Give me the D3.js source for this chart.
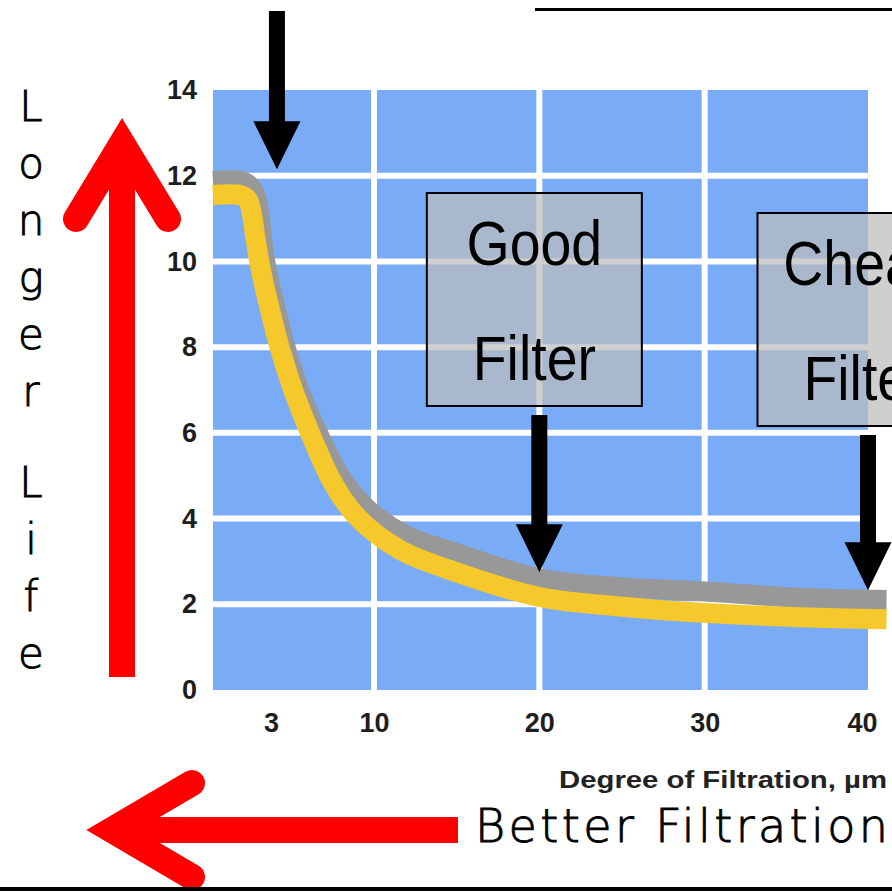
<!DOCTYPE html>
<html>
<head>
<meta charset="utf-8">
<script src="https://cdn.jsdelivr.net/npm/d3@7"></script>
<style>
  body { margin: 0; background: #fff; }
  svg { display: block; }
  .tick text { font-family: "Liberation Sans", Arial, sans-serif; font-weight: bold; font-size: 27px; fill: #1e1e1e; }
</style>
</head>
<body>
<div id="container"></div>
<script>
const width = 892, height = 892;

// axis ticks
const lifeTicks = [0, 2, 4, 6, 8, 10, 12, 14];
const micronTicks = [3, 10, 20, 30, 40];

// curves (degree of filtration, µm -> life)
const micronsGray = [0, 1.4, 1.86, 2.17, 2.38, 2.53, 2.69, 2.95, 3.34, 3.82, 4.36, 5.04, 6.13, 7.76, 9.46, 11.88, 14.78, 20, 24.9, 30, 35.8, 41];
const lifeGray    = [11.88, 11.88, 11.78, 11.57, 11.15, 10.55, 10.03, 9.45, 8.87, 8.21, 7.58, 6.88, 6.04, 4.95, 4.25, 3.62, 3.22, 2.6, 2.4, 2.3, 2.15, 2.1];
const micronsYellow = [0, 1.4, 1.76, 1.97, 2.17, 2.38, 2.64, 2.95, 3.41, 3.95, 4.63, 5.65, 7.21, 8.84, 11.57, 14.6, 20, 24.9, 30, 35.8, 41];
const lifeYellow    = [11.55, 11.55, 11.46, 11.2, 10.62, 10.03, 9.45, 8.87, 8.21, 7.58, 6.88, 6.0, 4.83, 4.04, 3.27, 2.8, 2.17, 1.95, 1.8, 1.7, 1.65];

// callouts: where the arrows point
const arrowMicrons = [3.2, 20, 40];
const arrowLife = [12.15, 2.75, 2.33];
const calloutLines = [null, ['Good', 'Filter'], ['Cheap', 'Filter']];

const yLetters = ['Longer', 'Life'];

const svg = d3.select('#container').append('svg')
    .attr('width', width)
    .attr('height', height)
    .attr('viewBox', [0, 0, width, height]);

const x = d3.scaleLinear().domain([0, 3, 10, 40]).range([213, 271, 374, 870]);
const y = d3.scaleLinear().domain([0, 14]).range([690, 90]);
const plotRight = 868;

// blue panel + white grid
svg.append('rect')
    .attr('x', x(0)).attr('y', y(14))
    .attr('width', plotRight - x(0)).attr('height', y(0) - y(14))
    .attr('fill', '#79abf7');

svg.append('g')
    .selectAll('line')
    .data(lifeTicks.filter(d => d > 0 && d < 14))
    .join('line')
        .attr('x1', x(0)).attr('x2', plotRight)
        .attr('y1', d => y(d)).attr('y2', d => y(d))
        .attr('stroke', '#fff').attr('stroke-width', 6);

svg.append('g')
    .selectAll('line')
    .data([10, 20, 30])
    .join('line')
        .attr('x1', d => x(d)).attr('x2', d => x(d))
        .attr('y1', y(14)).attr('y2', y(0))
        .attr('stroke', '#fff').attr('stroke-width', 6);

// curves
const line = d3.line()
    .x(d => x(d[0]))
    .y(d => y(d[1]))
    .curve(d3.curveCatmullRom.alpha(0.5));

svg.append('path')
    .attr('d', line(d3.zip(micronsGray, lifeGray)))
    .attr('fill', 'none').attr('stroke', '#989898').attr('stroke-width', 20);

svg.append('path')
    .attr('d', line(d3.zip(micronsYellow, lifeYellow)))
    .attr('fill', 'none').attr('stroke', '#f5c82c').attr('stroke-width', 20);

// axes
const yAxis = svg.append('g')
    .attr('transform', 'translate(197,0)')
    .call(d3.axisLeft(y).tickValues(lifeTicks).tickSize(0).tickPadding(0));
yAxis.select('.domain').remove();

const xAxis = svg.append('g')
    .attr('transform', 'translate(0,697)')
    .call(d3.axisBottom(x).tickValues(micronTicks).tickSize(0).tickPadding(16).tickFormat(d3.format('d')));
xAxis.select('.domain').remove();
xAxis.selectAll('.tick text').attr('dx', d => d == 40 ? -8 : 0);

svg.append('text')
    .attr('x', 559).attr('y', 788)
    .attr('font-family', '"Liberation Sans", Arial, sans-serif')
    .attr('font-weight', 'bold').attr('font-size', 24)
    .attr('textLength', 328).attr('lengthAdjust', 'spacingAndGlyphs')
    .attr('fill', '#222')
    .text('Degree of Filtration, µm');

// callout boxes
const boxTop = [null, 193, 213];
const boxW = 215, boxH = 213;
calloutLines.forEach((lines, i) => {
    if (!lines) return;
    const cx = x(arrowMicrons[i]) - 5;
    const g = svg.append('g');
    g.append('rect')
        .attr('x', cx - boxW / 2).attr('y', boxTop[i])
        .attr('width', boxW).attr('height', boxH)
        .attr('fill', '#bdbdbd').attr('fill-opacity', 0.72)
        .attr('stroke', '#000').attr('stroke-width', 2);
    g.selectAll('text')
        .data(lines)
        .join('text')
            .attr('transform', (d, j) => `translate(${cx},${boxTop[i] + 72 + j * 115}) scale(0.88,1)`)
            .attr('text-anchor', 'middle')
            .attr('font-family', '"Liberation Sans", Arial, sans-serif')
            .attr('font-size', 63)
            .attr('fill', '#000')
            .text(d => d);
});

// black down arrows
const shaftTop = [11, 415, 435];
arrowMicrons.forEach((m, i) => {
    const cx = x(m) + (i == 0 ? 3 : 0) - (i == 2 ? 2 : 0);
    const tip = y(arrowLife[i]);
    const headH = 48, headW = 47;
    svg.append('rect')
        .attr('x', cx - 8).attr('y', shaftTop[i])
        .attr('width', 16).attr('height', tip - headH - shaftTop[i] + 2)
        .attr('fill', '#000');
    svg.append('path')
        .attr('d', `M${cx - headW / 2},${tip - headH}L${cx + headW / 2},${tip - headH}L${cx},${tip}Z`)
        .attr('fill', '#000');
});

// red arrows
const red = '#ff0000';
svg.append('line')
    .attr('x1', 122).attr('x2', 122).attr('y1', 677).attr('y2', 150)
    .attr('stroke', red).attr('stroke-width', 26);
svg.append('polyline')
    .attr('points', '76,219 122,143 168,219')
    .attr('fill', 'none').attr('stroke', red).attr('stroke-width', 26)
    .attr('stroke-linecap', 'round').attr('stroke-linejoin', 'miter');

svg.append('line')
    .attr('x1', 458).attr('x2', 120).attr('y1', 830).attr('y2', 830)
    .attr('stroke', red).attr('stroke-width', 26);
svg.append('polyline')
    .attr('points', '192,783 112,830 192,877')
    .attr('fill', 'none').attr('stroke', red).attr('stroke-width', 26)
    .attr('stroke-linecap', 'round').attr('stroke-linejoin', 'miter');

// side labels
const thinText = sel => sel
    .attr('font-family', '"DejaVu Sans", Verdana, sans-serif')
    .attr('font-weight', 200)
    .attr('fill', '#000')
    .attr('stroke', '#000')
    .attr('stroke-width', 0.9);

const letters = [];
yLetters.forEach((w, wi) => {
    w.split('').forEach((c, ci) => letters.push({c, base: (wi == 0 ? 121 : 497) + ci * 57}));
});
svg.append('g')
    .selectAll('text')
    .data(letters)
    .join('text')
        .attr('x', 31).attr('y', d => d.base)
        .attr('text-anchor', 'middle')
        .attr('font-size', 42)
        .call(thinText)
        .text(d => d.c);

svg.append('text')
    .attr('x', 475).attr('y', 842)
    .attr('font-size', 46)
    .attr('textLength', 413)
    .attr('lengthAdjust', 'spacing')
    .call(thinText)
    .text('Better Filtration');

// title cut off at the top, and rules
svg.append('text')
    .attr('x', 100).attr('y', -2)
    .attr('font-family', '"Liberation Sans", Arial, sans-serif')
    .attr('font-weight', 'bold').attr('font-size', 60)
    .attr('fill', '#ff0000')
    .attr('fill-opacity', 0.5)
    .text('RECOMMEND');

svg.append('line')
    .attr('x1', 535).attr('x2', width).attr('y1', 9.5).attr('y2', 9.5)
    .attr('stroke', '#000').attr('stroke-width', 3);
svg.append('line')
    .attr('x1', 0).attr('x2', width).attr('y1', 889).attr('y2', 889)
    .attr('stroke', '#000').attr('stroke-width', 4);
</script>
</body>
</html>
